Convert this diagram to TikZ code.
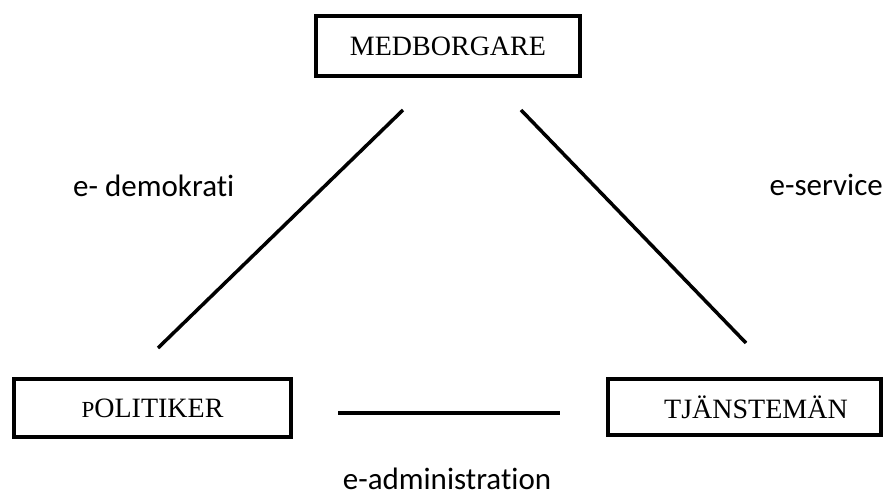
\documentclass[tikz,border=0pt]{standalone}
\usepackage{fontspec}
\setmainfont{Liberation Serif}
\newfontfamily\labfont[Ligatures=NoCommon]{Carlito}
\begin{document}
\begin{tikzpicture}[x=1pt,y=-1pt,
  boxnode/.style={draw=black, line width=3.5pt, rectangle, inner sep=0pt,
    font=\fontsize{28}{30}\selectfont},
  lab/.style={inner sep=0pt, font=\labfont\fontsize{31}{33}\selectfont},
  conn/.style={line width=3.5pt}]
\useasboundingbox (0,0) rectangle (885,500);
\node[boxnode, minimum width=264pt, minimum height=60pt] (med) at (448,46) {MEDBORGARE};
\node[boxnode, minimum width=277pt, minimum height=58pt] (pol) at (152.5,408) {{\fontsize{23}{25}\selectfont P}OLITIKER};
\node[boxnode, minimum width=273pt, minimum height=56pt] (tja) at (744.5,407) {\hspace*{23pt}TJÄNSTEMÄN};
\coordinate (d1) at (403,110);
\coordinate (d2) at (158,348);
\coordinate (s1) at (521,110);
\coordinate (s2) at (746,343);
\coordinate (h1) at (338,413);
\coordinate (h2) at (560,413);
\draw[conn] (d1) -- (d2);
\draw[conn] (s1) -- (s2);
\draw[conn] (h1) -- (h2);
\node[lab, anchor=base west] (dem) at (73,196) {e- demokrati};
\node[lab, anchor=base east] (ser) at (883,195) {e-service};
\node[lab, anchor=base] (adm) at (447,489) {e-administration};
\end{tikzpicture}
\end{document}
